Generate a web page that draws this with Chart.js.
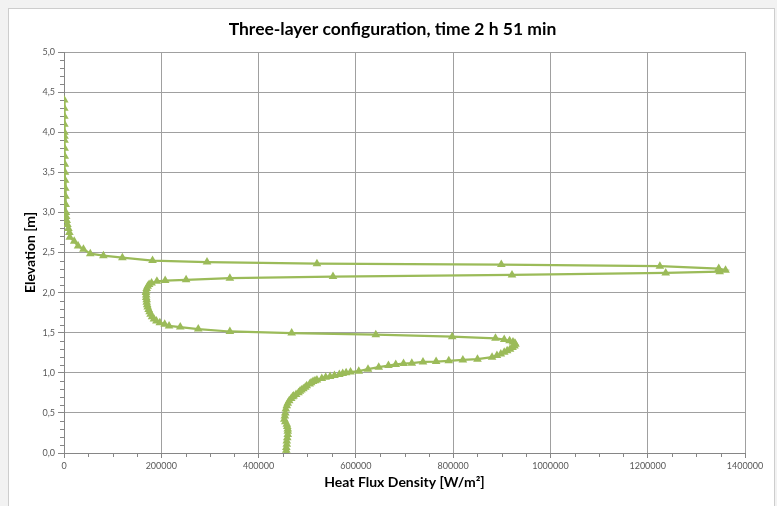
<!DOCTYPE html>
<html>
<head>
<meta charset="utf-8">
<script src="https://cdn.jsdelivr.net/npm/chart.js@4.4.1/dist/chart.umd.min.js"></script>
<style>
    html, body { margin: 0; padding: 0; background: #f2f2f2; }
    #panel { position: absolute; left: 8px; top: 8px; width: 765px; height: 520px; background: #fff; border: 1px solid #cdcdcd; }
    #chart { position: absolute; left: 0; top: 0; }
</style>
</head>
<body>
<div id="panel"></div>
<canvas id="chart" width="777" height="506"></canvas>
<script>
// elevation [m] and heat flux density [W/m2], read top to bottom along the curve
const elevation = [
    4.40, 4.30, 4.20, 4.10, 4.00, 3.95, 3.90, 3.80, 3.70, 3.60,
    3.50, 3.40, 3.30, 3.20, 3.10, 3.00, 2.95, 2.90, 2.85, 2.80,
    2.75, 2.69, 2.64, 2.58, 2.54, 2.485, 2.46, 2.435, 2.40, 2.38,
    2.36, 2.35, 2.33, 2.30, 2.28, 2.26, 2.245, 2.22, 2.20, 2.18,
    2.16, 2.15, 2.14, 2.12, 2.10, 2.08, 2.05, 2.02, 2.00, 1.97,
    1.94, 1.91, 1.88, 1.85, 1.82, 1.79, 1.76, 1.73, 1.70, 1.67,
    1.645, 1.625, 1.605, 1.585, 1.57, 1.545, 1.515, 1.495, 1.475, 1.45,
    1.43, 1.415, 1.40, 1.385, 1.37, 1.355, 1.335, 1.315, 1.295, 1.275,
    1.255, 1.235, 1.215, 1.195, 1.17, 1.16, 1.15, 1.14, 1.135, 1.12,
    1.115, 1.105, 1.09, 1.07, 1.045, 1.02, 1.01, 1.00, 0.99, 0.98,
    0.965, 0.955, 0.945, 0.93, 0.91, 0.90, 0.89, 0.875, 0.86, 0.84,
    0.82, 0.80, 0.785, 0.77, 0.75, 0.73, 0.71, 0.70, 0.68, 0.65,
    0.62, 0.59, 0.55, 0.50, 0.46, 0.42, 0.39, 0.36, 0.33, 0.30,
    0.27, 0.23, 0.19, 0.15, 0.11, 0.07, 0.035, 0.00
];
const heatFlux = [
    500, 600, 700, 800, 900, 1000, 1100, 1300, 1500, 1700,
    2000, 2300, 2600, 3000, 3500, 4000, 4500, 5500, 7000, 9000,
    11000, 12000, 21000, 29000, 40000, 54000, 81000, 120000, 182000, 294000,
    520000, 899000, 1225000, 1346000, 1360000, 1348000, 1237000, 921000, 553000, 341000,
    251000, 208000, 191000, 180000, 175000, 172000, 170000, 169000, 168500, 169000,
    169000, 170000, 170000, 171000, 172000, 174000, 176000, 178000, 181000, 185000,
    190000, 197000, 207000, 216000, 239000, 276000, 341000, 468000, 641000, 798000,
    887000, 905000, 916000, 923000, 927000, 928000, 926000, 922000, 917000, 911000,
    905000, 898000, 890000, 880000, 850000, 820000, 791000, 765000, 738000, 715000,
    698000, 682000, 667000, 647000, 625000, 606000, 589000, 580000, 573000, 566000,
    556000, 547000, 538000, 530000, 520000, 516000, 512000, 508000, 505000, 499000,
    496000, 492000, 488000, 485000, 482000, 477000, 472000, 470000, 467000, 463000,
    460000, 458000, 456000, 455000, 454000, 453000, 455000, 458000, 459000, 460000,
    460000, 460000, 459000, 458000, 458000, 457000, 457000, 457000
];

const xTicks = [0, 200000, 400000, 600000, 800000, 1000000, 1200000, 1400000];
const yTicks = [0, 0.5, 1.0, 1.5, 2.0, 2.5, 3.0, 3.5, 4.0, 4.5, 5.0];

const green = "#9bbb59";
const axisGray = "#868686";
const font = "Lato, 'Open Sans', sans-serif";

// small minor tick marks like the original
const minorTicks = {
    id: "minorTicks",
    afterDraw(chart) {
        const { ctx, chartArea, scales } = chart;
        ctx.save();
        ctx.strokeStyle = axisGray;
        ctx.lineWidth = 1;
        ctx.beginPath();
        for (let i = 0; i <= 50; i++) {
            if (i % 5 === 0) continue;
            const py = Math.round(scales.y.getPixelForValue(i / 10)) + 0.5;
            ctx.moveTo(chartArea.left - 4, py);
            ctx.lineTo(chartArea.left, py);
        }
        for (let i = 0; i <= 28; i++) {
            if (i % 4 === 0) continue;
            const px = Math.round(scales.x.getPixelForValue(i * 50000)) + 0.5;
            ctx.moveTo(px, chartArea.bottom);
            ctx.lineTo(px, chartArea.bottom + 4);
        }
        ctx.stroke();
        ctx.restore();
    }
};

new Chart(document.getElementById("chart"), {
    type: "scatter",
    data: {
        datasets: [{
            data: elevation.map((e, i) => ({ x: heatFlux[i], y: e })),
            showLine: true,
            borderColor: green,
            borderWidth: 2.25,
            backgroundColor: green,
            pointStyle: "triangle",
            pointRadius: 5,
            pointBorderWidth: 0,
            tension: 0
        }]
    },
    options: {
        responsive: false,
        animation: false,
        layout: { padding: { left: 8, right: 0, top: 0, bottom: 0 } },
        plugins: {
            legend: { display: false },
            tooltip: { enabled: false },
            title: {
                display: true,
                text: "Three-layer configuration, time 2 h 51 min",
                color: "#000",
                font: { family: font, size: 17.5, weight: "bold", lineHeight: 1.2 },
                padding: { top: 19, bottom: 12 }
            }
        },
        scales: {
            x: {
                type: "linear",
                min: 0,
                max: 1400000,
                afterBuildTicks: s => { s.ticks = xTicks.map(v => ({ value: v })); },
                afterFit: s => { s.height = 53; },
                ticks: {
                    color: "#595959",
                    font: { family: font, size: 9 },
                    maxRotation: 0,
                    autoSkip: false,
                    padding: 3,
                    callback: v => String(v)
                },
                grid: { color: "#a0a0a0", tickColor: axisGray, tickLength: 5 },
                border: { color: axisGray },
                title: {
                    display: true,
                    text: "Heat Flux Density [W/m²]",
                    color: "#000",
                    font: { family: font, size: 14, weight: "bold", lineHeight: 1.2 },
                    padding: { top: 0, bottom: 15 }
                }
            },
            y: {
                type: "linear",
                min: 0,
                max: 5,
                afterBuildTicks: s => { s.ticks = yTicks.map(v => ({ value: v })); },
                afterFit: s => { s.width = 56; },
                ticks: {
                    color: "#595959",
                    font: { family: font, size: 9 },
                    padding: 3,
                    callback: v => v.toFixed(1).replace(".", ",")
                },
                grid: { color: "#a0a0a0", tickColor: axisGray, tickLength: 6 },
                border: { color: axisGray },
                title: {
                    display: true,
                    text: "Elevation [m]",
                    color: "#000",
                    font: { family: font, size: 14, weight: "bold", lineHeight: 1.2 },
                    padding: { top: 14, bottom: 0 }
                }
            },
            // empty right-hand axis that only reserves the space right of the plot
            yRight: {
                type: "linear",
                position: "right",
                min: 0,
                max: 5,
                afterFit: s => { s.width = 32; },
                ticks: { display: false },
                grid: { display: false, drawTicks: false },
                border: { display: false }
            }
        }
    },
    plugins: [minorTicks]
});
</script>
</body>
</html>
